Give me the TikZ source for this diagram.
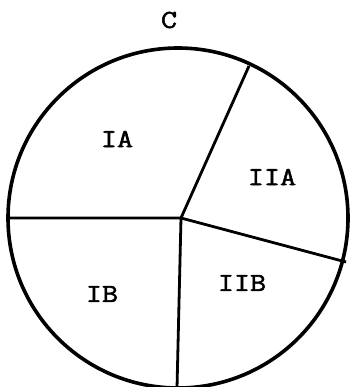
\documentclass[tikz,border=0pt]{standalone}
\usepackage{fontspec}
\newfontfamily\typewr[FakeStretch=1.2,FakeBold=2]{Latin Modern Mono}
\begin{document}
\begin{tikzpicture}[x=1pt,y=-1pt,
  rim/.style={line width=3.6pt},
  divider/.style={line width=2.8pt},
  lbl/.style={font=\typewr\fontsize{26}{28}\selectfont, inner sep=0pt}]
\useasboundingbox (0,0) rectangle (350,387);
\node[lbl] (title) at (169,20) {C};
\node[draw, rim, circle, minimum size=340pt, inner sep=0pt] (disc) at (178,218) {};
\coordinate (o) at (181,218);
\coordinate (pl) at (8,218);
\coordinate (pb) at (177,388);
\coordinate (pu) at (249,66);
\coordinate (pr) at (346,262);
\draw[divider] (pl) -- (o) -- (pb);
\draw[divider] (pu) -- (o) -- (pr);
\node[lbl] (ia) at (117,139) {IA};
\node[lbl] (iia) at (272,177) {IIA};
\node[lbl] (iib) at (242,283) {IIB};
\node[lbl] (ib) at (102,294) {IB};
\end{tikzpicture}
\end{document}
